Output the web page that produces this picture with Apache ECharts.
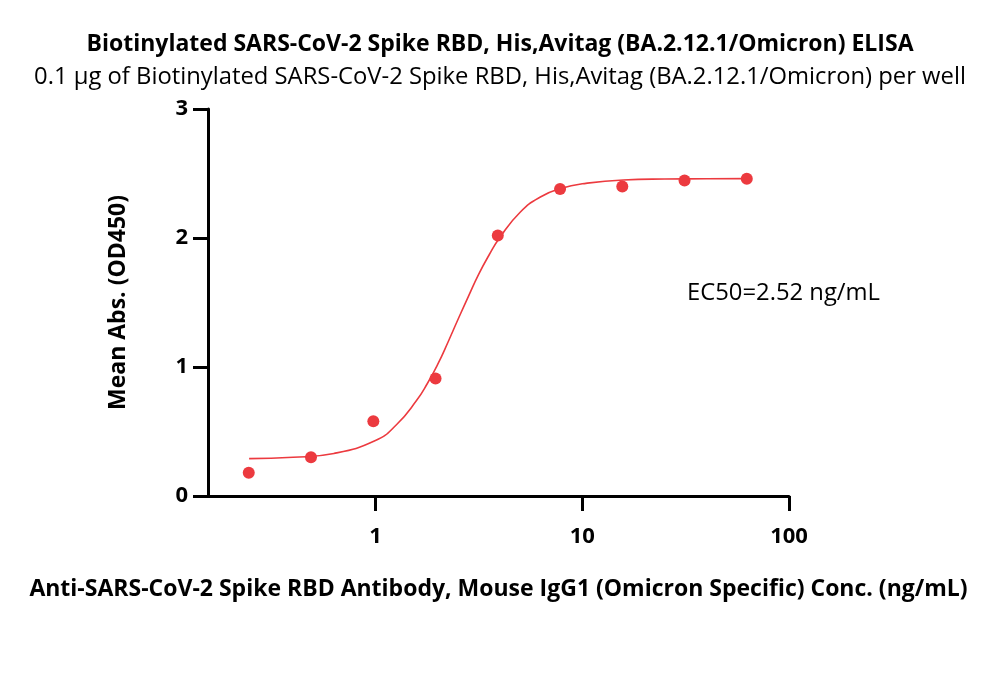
<!DOCTYPE html>
<html>
<head>
<meta charset="utf-8">
<script src="https://cdn.jsdelivr.net/npm/echarts@6/dist/echarts.min.js"></script>
<style>html,body{margin:0;padding:0;background:#fff;}#c{width:1000px;height:694px;}</style>
</head>
<body>
<div id="c"></div>
<script>
// Measured points
const concentrations = [0.244, 0.488, 0.977, 1.953, 3.906, 7.8125, 15.625, 31.25, 62.5];
const meanAbs = [0.18, 0.30, 0.58, 0.91, 2.02, 2.38, 2.40, 2.445, 2.46];
// Fitted curve
const curveX = [0.245, 0.4, 0.63, 1, 1.26, 1.58, 1.78, 2.0, 2.24, 2.51, 2.82, 3.16, 3.55, 3.98, 5.01, 6.31, 7.94, 10, 15.8, 25.1, 39.8, 62.5];
const curveY = [0.29, 0.30, 0.33, 0.43, 0.55, 0.74, 0.87, 1.02, 1.19, 1.37, 1.55, 1.72, 1.87, 2.00, 2.20, 2.32, 2.385, 2.42, 2.45, 2.457, 2.459, 2.46];
const yTicks = [0, 1, 2, 3];
const xTickLabels = [1, 10, 100];

const RED = '#EC3A3F';
const FONT = 'Open Sans';

const chart = echarts.init(document.getElementById('c'), null, {renderer: 'canvas'});
chart.setOption({
  animation: false,
  backgroundColor: '#fff',
  title: [
    {text: 'Biotinylated SARS-CoV-2 Spike RBD, His,Avitag (BA.2.12.1/Omicron) ELISA', left: 'center', top: 28,
     textStyle: {fontFamily: FONT, fontWeight: 'bold', fontSize: 23, color: '#000'}},
    {text: '0.1 μg of Biotinylated SARS-CoV-2 Spike RBD, His,Avitag (BA.2.12.1/Omicron) per well', left: 'center', top: 60,
     textStyle: {fontFamily: FONT, fontWeight: 'normal', fontSize: 23.8, color: '#000'}}
  ],
  grid: {left: 208, right: 211, top: 109, bottom: 198, containLabel: false},
  xAxis: {
    type: 'log', logBase: 10, min: 0.155, max: 100,
    name: 'Anti-SARS-CoV-2 Spike RBD Antibody, Mouse IgG1 (Omicron Specific) Conc. (ng/mL)',
    nameLocation: 'middle', nameGap: 82,
    nameTextStyle: {fontFamily: FONT, fontWeight: 'bold', fontSize: 23, color: '#000'},
    axisLine: {lineStyle: {color: '#000', width: 3}},
    axisTick: {show: true, length: 15, lineStyle: {color: '#000', width: 3},
      customValues: xTickLabels},
    axisLabel: {fontFamily: FONT, fontWeight: 'bold', fontSize: 22, color: '#000', margin: 30,
      customValues: xTickLabels},
    minorTick: {show: false},
    splitLine: {show: false}
  },
  yAxis: {
    type: 'value', min: 0, max: 3, interval: 1,
    name: 'Mean Abs. (OD450)', nameLocation: 'middle', nameGap: 78,
    nameTextStyle: {fontFamily: FONT, fontWeight: 'bold', fontSize: 23, color: '#000'},
    axisLine: {show: true, lineStyle: {color: '#000', width: 3}},
    axisTick: {show: true, length: 15, lineStyle: {color: '#000', width: 3}},
    axisLabel: {fontFamily: FONT, fontWeight: 'bold', fontSize: 22, color: '#000', margin: 20},
    splitLine: {show: false}
  },
  series: [
    {type: 'line', data: curveX.map((x, i) => [x, curveY[i]]), smooth: true, showSymbol: false,
     lineStyle: {color: RED, width: 1.6}, z: 2},
    {type: 'scatter', data: concentrations.map((x, i) => [x, meanAbs[i]]), symbolSize: 12,
     itemStyle: {color: RED, opacity: 1}, z: 3}
  ],
  graphic: [
    {type: 'text', left: 687, top: 281,
     style: {text: 'EC50=2.52 ng/mL', font: '23.8px "Open Sans"', fill: '#000'}}
  ]
});
</script>
</body>
</html>
